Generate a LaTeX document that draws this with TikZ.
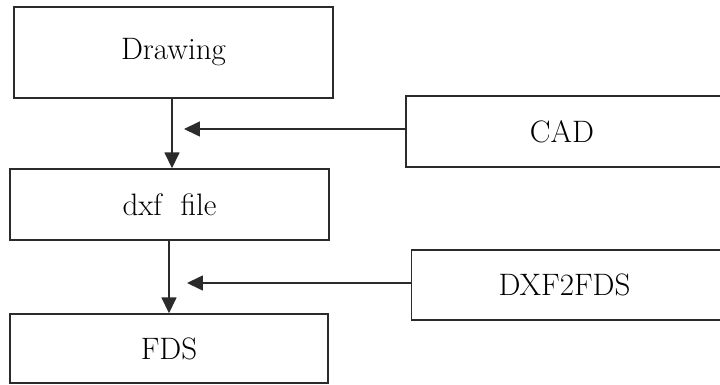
\documentclass[tikz,border=0pt]{standalone}
\usepackage{tikz}
\usetikzlibrary{arrows.meta}
\definecolor{FlowInk}{HTML}{2B2B2B}

\begin{document}
\begin{tikzpicture}[
    x=0.5pt, y=-0.5pt,
    procbox/.style={
      draw=FlowInk,
      line width=0.7pt,
      fill=white,
      inner sep=0pt,
      font=\fontsize{15.5}{18}\selectfont
    },
    feed/.style={
      draw=FlowInk,
      line width=0.8pt,
      -{Triangle[length=8pt,width=7.5pt]}
    }
  ]
  \useasboundingbox (0,0) rectangle (720,385);
  \clip (0,0) rectangle (720,385);

  % main chain on the left
  \node[procbox, minimum width=159.5pt, minimum height=45.5pt] (drawing) at (173.5,52.5) {Drawing};
  \node[procbox, minimum width=159.5pt, minimum height=35.5pt] (dxf) at (169.5,204.5) {dxf\ \ file};
  \node[procbox, minimum width=159pt, minimum height=34.5pt] (fds) at (169,348.5) {FDS};

  % tools on the right (cut off by the page edge)
  \node[procbox, minimum width=160pt, minimum height=35.5pt] (cad) at (566,131.5) {\hspace*{-4pt}CAD};
  \node[procbox, minimum width=157pt, minimum height=35pt] (conv) at (568.5,285) {\hspace*{-4pt}DXF2FDS};

  \coordinate (cadin) at (184,129);
  \coordinate (convin) at (187,283);

  \draw[feed] (drawing.south -| 172,0) -- (dxf.north -| 172,0);
  \draw[feed] (dxf.south -| 169,0) -- (fds.north -| 169,0);
  \draw[feed] (cad.west |- cadin) -- (cadin);
  \draw[feed] (conv.west |- convin) -- (convin);
\end{tikzpicture}
\end{document}
